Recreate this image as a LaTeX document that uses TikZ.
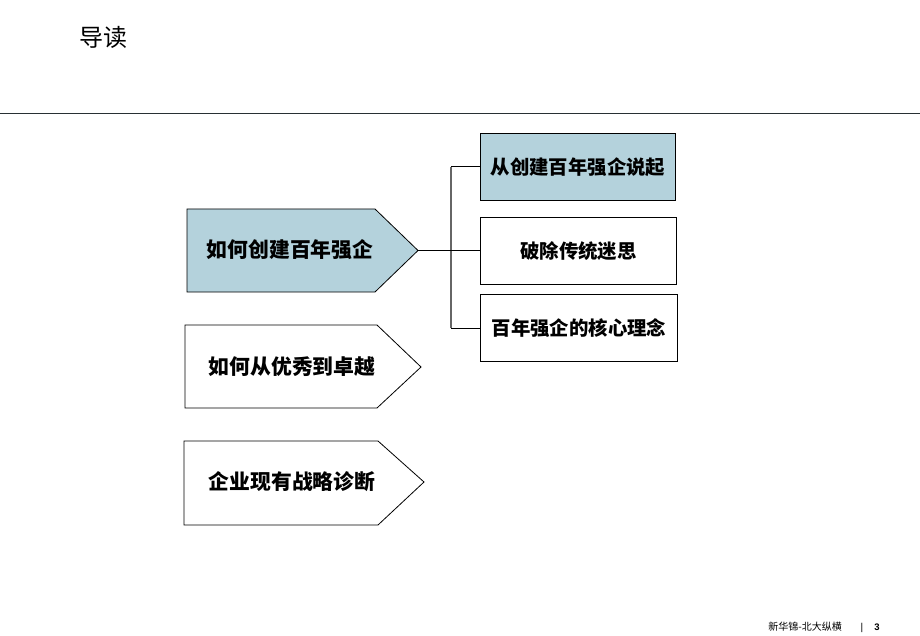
\documentclass[tikz,border=0pt]{standalone}
\usepackage{fontspec}
\setmainfont{Noto Sans CJK SC}
\newfontfamily\footfont{Liberation Sans}
\usetikzlibrary{calc}
\definecolor{paleblue}{RGB}{180,210,220}
\definecolor{rulegray}{RGB}{40,48,52}
\tikzset{
  boxtext/.style={font=\fontsize{20.8}{23}\selectfont\bfseries, inner sep=0pt},
  itemtext/.style={font=\fontsize{19.4}{22}\selectfont\bfseries, inner sep=0pt},
  frame/.style={draw=black, line width=0.8pt},
}

\begin{document}
\begin{tikzpicture}[x=1pt,y=-1pt]
                \useasboundingbox (0,0) rectangle (920,636);

                % title and rule
                \node[anchor=west, font=\fontsize{24}{26}\selectfont, inner sep=0pt] (title) at (79,37) {导读};
                \draw[rulegray, line width=1pt] (0,114) -- (920,114);

                % left arrow boxes
                \filldraw[frame, fill=paleblue] (187,209) -- (375,209) -- (418,250.5) -- (375,292) -- (187,292) -- cycle;
                \draw[frame] (185,325) -- (377,325) -- (421,367) -- (377,408) -- (185,408) -- cycle;
                \draw[frame] (184,441) -- (378,441) -- (424,482) -- (378,525) -- (184,525) -- cycle;
                \coordinate (tip) at (418,250.5);

                \node[boxtext] (create) at (290,250) {如何创建百年强企};
                \node[boxtext] (excel) at (292,367) {如何从优秀到卓越};
                \node[boxtext] (diag) at (292,482) {企业现有战略诊断};

                % right boxes
                \node[frame, fill=paleblue, minimum width=195pt, minimum height=67pt, anchor=north west, inner sep=0pt] (start) at (480,133) {};
                \node[frame, minimum width=196pt, minimum height=67pt, anchor=north west, inner sep=0pt] (myth) at (480,217) {};
                \node[frame, minimum width=197pt, minimum height=67pt, anchor=north west, inner sep=0pt] (core) at (480,294) {};
                \node[itemtext] at (start.center) {从创建百年强企说起};
                \node[itemtext] at (myth.center) {破除传统迷思};
                \node[itemtext] at (core.center) {百年强企的核心理念};

                % bracket
                \coordinate (fork) at (451,250.5);
                \draw[gray!80!black, line width=1.4pt] (fork |- start.west) -- (fork |- core.west);
                \draw[line width=0.8pt] (tip) -- (tip -| myth.west);
                \draw[line width=0.8pt] (fork |- start.west) -- (start.west);
                \draw[line width=0.8pt] (fork |- core.west) -- (core.west);

                % footer
                \node[anchor=east, font=\fontsize{10}{11}\selectfont, inner sep=0pt] (brand) at (842,627) {新华锦-北大纵横};
                \node[font=\footfont\fontsize{10}{11}\selectfont, inner sep=0pt] (bar) at (862,628) {|};
                \node[font=\footfont\fontsize{9.5}{10}\selectfont\bfseries, inner sep=0pt] (page) at (877,627) {3};
\end{tikzpicture}
\end{document}
